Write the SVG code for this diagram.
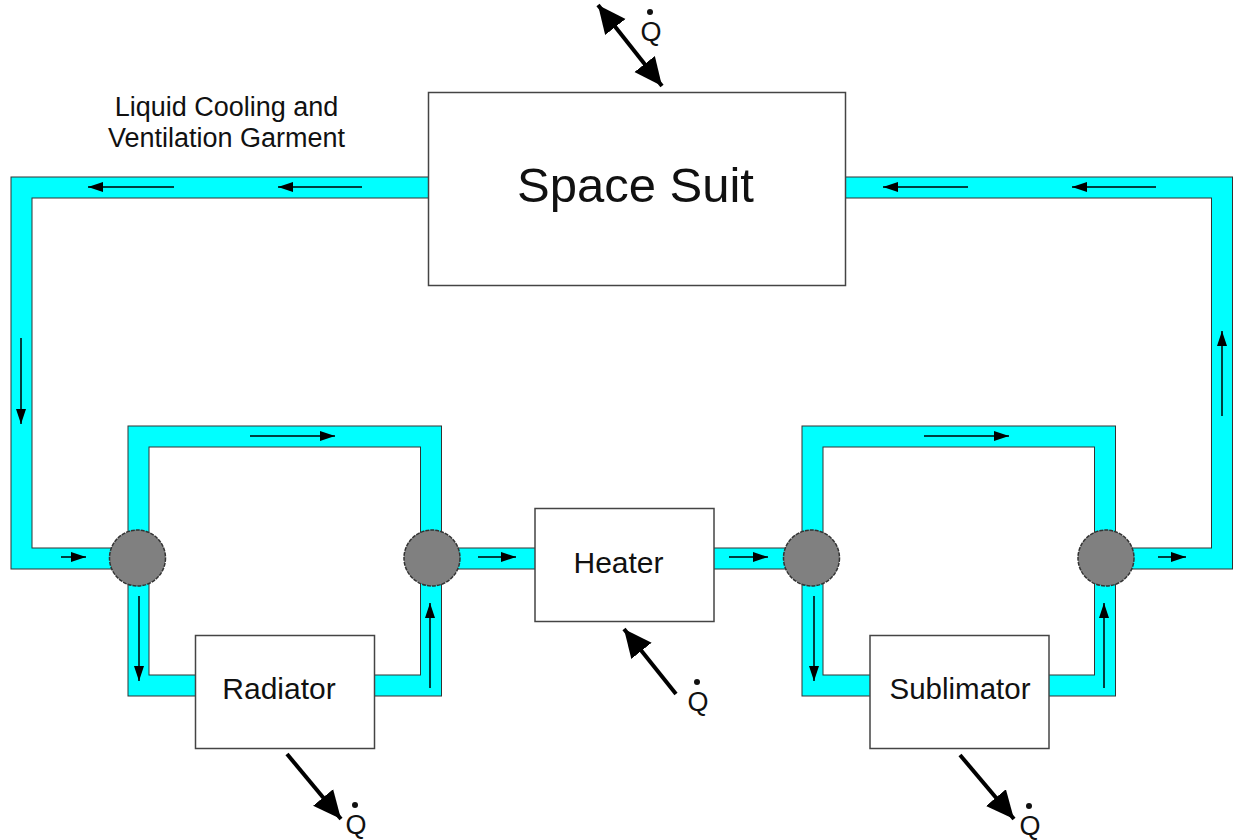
<svg xmlns="http://www.w3.org/2000/svg" width="1235" height="840" viewBox="0 0 1235 840">
<style>
text{font-family:"Liberation Sans",Arial,sans-serif;fill:#111}
.po{fill:none;stroke:#333;stroke-width:22;stroke-linejoin:miter}
.pi{fill:none;stroke:#00ffff;stroke-width:20;stroke-linejoin:miter}
.box{fill:#fff;stroke:#444;stroke-width:1.5}
.v{fill:#808080;stroke:#333;stroke-width:1.5;stroke-dasharray:4 1}
.a{stroke:#000;stroke-width:1.5;fill:none;marker-end:url(#s)}
.b{stroke:#000;stroke-width:4;fill:none;marker-end:url(#l)}
.q{font-size:27px;text-anchor:middle}
.d{fill:#111}
</style>
<defs>
<marker id="s" markerUnits="userSpaceOnUse" markerWidth="15" markerHeight="10" refX="15" refY="5" orient="auto"><path d="M0 0L15 5L0 10Z" fill="#000"/></marker>
<marker id="l" markerUnits="userSpaceOnUse" markerWidth="30" markerHeight="30" refX="28" refY="15" orient="auto-start-reverse"><path d="M0 2L28 15L0 28Z" fill="#000"/></marker>
</defs>
<g id="connectors">
<path id="pipe-return" class="po" d="M430 187.500H21.500V558.500H140"/>
<path class="pi" d="M430 187.500H21.500V558.500H140"/>
<path id="pipe-out" class="po" d="M843 187.500H1222V558.500H1106"/>
<path class="pi" d="M843 187.500H1222V558.500H1106"/>
<path id="pipe-loop-l" class="po" d="M197 685.500H138.500V436.500H431V685.500H373"/>
<path class="pi" d="M197 685.500H138.500V436.500H431V685.500H373"/>
<path id="pipe-loop-r" class="po" d="M872 685.500H812.500V436.500H1105V685.500H1047"/>
<path class="pi" d="M872 685.500H812.500V436.500H1105V685.500H1047"/>
<path id="pipe-mid" class="po" d="M432 558.500H811"/>
<path class="pi" d="M432 558.500H811"/>
<path class="a" d="M174 187H88"/><path class="a" d="M362 187H278"/>
<path class="a" d="M968 187H883"/><path class="a" d="M1156 187H1072"/>
<path class="a" d="M21 338V424"/><path class="a" d="M1222 416V331"/>
<path class="a" d="M250 436H335"/><path class="a" d="M924 436H1009"/>
<path class="a" d="M61 557H86"/><path class="a" d="M478 557H516"/>
<path class="a" d="M729 557H768"/><path class="a" d="M1158 557H1186"/>
<path class="a" d="M139 596V681"/><path class="a" d="M814 596V681"/>
<path class="a" d="M430 688V603"/><path class="a" d="M1104 688V603"/>
<path class="b" d="M598 5L662 86" style="marker-start:url(#l)"/>
<path class="b" d="M676 694L624 629"/>
<path class="b" d="M287 754L341 819"/>
<path class="b" d="M960 755L1014 819"/>
</g>
<g id="space-suit"><rect class="box" x="428.500" y="92.500" width="417" height="193"/><text x="635.500" y="202" font-size="49" text-anchor="middle">Space Suit</text></g>
<g id="radiator"><rect class="box" x="195.500" y="635.500" width="179" height="113"/><text x="279" y="699" font-size="30" text-anchor="middle">Radiator</text></g>
<g id="heater"><rect class="box" x="535" y="508.500" width="179" height="113"/><text x="618.500" y="573" font-size="30" text-anchor="middle">Heater</text></g>
<g id="sublimator"><rect class="box" x="870" y="635.500" width="179" height="113"/><text x="960" y="699" font-size="29.500" text-anchor="middle">Sublimator</text></g>
<g id="valve-1"><circle class="v" cx="137.500" cy="558" r="28"/></g>
<g id="valve-2"><circle class="v" cx="432" cy="558" r="28"/></g>
<g id="valve-3"><circle class="v" cx="811.500" cy="558" r="28"/></g>
<g id="valve-4"><circle class="v" cx="1106" cy="558" r="28"/></g>
<g id="garment-label"><text x="226.500" y="116" font-size="27" text-anchor="middle">Liquid Cooling and</text><text x="226.500" y="147" font-size="27" text-anchor="middle">Ventilation Garment</text></g>
<g id="q-top"><circle class="d" cx="650" cy="12" r="3"/><text class="q" x="651" y="41">Q</text></g>
<g id="q-heater"><circle class="d" cx="697" cy="682" r="3"/><text class="q" x="698" y="711">Q</text></g>
<g id="q-radiator"><circle class="d" cx="355" cy="805" r="3"/><text class="q" x="356" y="834">Q</text></g>
<g id="q-sublimator"><circle class="d" cx="1029" cy="806" r="3"/><text class="q" x="1030" y="835">Q</text></g>
</svg>
